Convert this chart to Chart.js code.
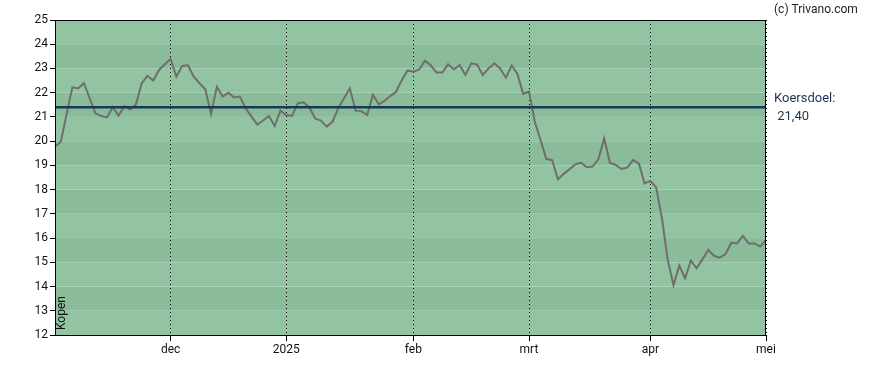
<!DOCTYPE html>
<html>
<head>
<meta charset="utf-8">
<script src="https://cdn.jsdelivr.net/npm/chart.js@4"></script>
<style>
  html, body { margin: 0; padding: 0; background: #fff; }
  #wrap { position: relative; width: 888px; height: 370px; }
</style>
</head>
<body>
<div id="wrap"><canvas id="koersChart" width="888" height="370"></canvas></div>
<script>
// --- DATA (koers per handelsdag, nov 2024 - mei 2025) ---
const koers = [
  19.77, 19.98, 21.10, 22.22, 22.18, 22.39, 21.77, 21.15, 21.04, 20.98,
  21.40, 21.05, 21.45, 21.31, 21.52, 22.39, 22.69, 22.50, 22.94, 23.17,
  23.40, 22.66, 23.10, 23.13, 22.66, 22.39, 22.14, 21.12, 22.25, 21.84,
  22.00, 21.80, 21.84, 21.35, 21.01, 20.68, 20.85, 21.04, 20.63, 21.26,
  21.08, 21.04, 21.56, 21.60, 21.40, 20.94, 20.85, 20.60, 20.80, 21.35,
  21.77, 22.18, 21.26, 21.24, 21.08, 21.92, 21.52, 21.66, 21.86, 22.04,
  22.52, 22.92, 22.87, 22.96, 23.32, 23.13, 22.83, 22.83, 23.17, 22.96,
  23.14, 22.73, 23.21, 23.17, 22.73, 23.00, 23.21, 23.00, 22.62, 23.12,
  22.77, 21.95, 22.05, 20.80, 20.05, 19.26, 19.22, 18.42, 18.65, 18.84,
  19.04, 19.11, 18.92, 18.95, 19.25, 20.12, 19.11, 19.02, 18.85, 18.91,
  19.22, 19.08, 18.26, 18.36, 18.09, 16.82, 15.10, 14.06, 14.86, 14.34,
  15.07, 14.75, 15.12, 15.51, 15.27, 15.19, 15.34, 15.81, 15.78, 16.09,
  15.78, 15.78, 15.65, 15.92
];
const koersdoel = 21.40;

// maandlabels en de handelsdag waarop ze vallen
const maandNamen = ['dec', '2025', 'feb', 'mrt', 'apr', 'mei'];
const maandIndex = [20, 40, 62, 82, 103, 123];

const yMin = 12;
const yMax = 25;

// --- categorieën opbouwen: lege labels behalve op maandgrenzen ---
const labels = koers.map(function(_, i) {
    const pos = maandIndex.indexOf(i);
    return pos >= 0 ? maandNamen[pos] : '';
});
const doelLijn = koers.map(function() { return koersdoel; });

const FONT = 'Roboto, "Liberation Sans", sans-serif';

// --- achtergrond met afwisselende banden + kader + teksten ---
const bandenPlugin = {
    id: 'banden',
    beforeDraw(chart) {
        const ctx = chart.ctx;
        const area = chart.chartArea;
        const y = chart.scales.y;
        ctx.save();
        for (let v = yMin; v < yMax; v++) {
            const top = y.getPixelForValue(v + 1);
            const bottom = y.getPixelForValue(v);
            ctx.fillStyle = ((yMax - 1 - v) % 2 === 0) ? '#93c4a1' : '#8abc9a';
            ctx.fillRect(area.left, top, area.right - area.left, bottom - top);
        }
        ctx.restore();
    },
    afterDraw(chart) {
        const ctx = chart.ctx;
        const area = chart.chartArea;
        const y = chart.scales.y;
        ctx.save();
        // kader rond het plotgebied
        ctx.strokeStyle = '#000';
        ctx.lineWidth = 1;
        ctx.strokeRect(Math.round(area.left) + 0.5, Math.round(area.top) + 0.5,
            Math.round(area.right - area.left) - 1, Math.round(area.bottom - area.top));

        // teksten
        ctx.textAlign = 'left';
        ctx.textBaseline = 'alphabetic';
        ctx.font = '12px ' + FONT;
        ctx.fillStyle = '#222';
        ctx.fillText('(c) Trivano.com', area.right + 8, 13);

        const yDoel = y.getPixelForValue(koersdoel);
        ctx.font = '13px ' + FONT;
        ctx.fillStyle = '#1c3550';
        ctx.fillText('Koersdoel:', area.right + 8, yDoel - 5);
        ctx.fillText(' ' + koersdoel.toFixed(2).replace('.', ','), area.right + 8, yDoel + 13);

        // advies, verticaal onderin
        ctx.font = '12px ' + FONT;
        ctx.fillStyle = '#111';
        ctx.translate(area.left + 10, area.bottom - 5);
        ctx.rotate(-Math.PI / 2);
        ctx.fillText('Kopen', 0, 0);
        ctx.restore();
    }
};

const config = {
    type: 'line',
    data: {
        labels: labels,
        datasets: [
            {
                label: 'Koersdoel',
                data: doelLijn,
                borderColor: '#163a55',
                borderWidth: 2.5,
                pointRadius: 0,
                tension: 0,
                order: 0
            },
            {
                label: 'Koers',
                data: koers,
                borderColor: '#6e6e6e',
                borderWidth: 2,
                pointRadius: 0,
                tension: 0,
                order: 1
            }
        ]
    },
    options: {
        responsive: false,
        animation: false,
        events: [],
        layout: { padding: { left: 0, right: 122, top: 20, bottom: 0 } },
        plugins: { legend: { display: false }, tooltip: { enabled: false } },
        scales: {
            x: {
                type: 'category',
                offset: false,
                afterBuildTicks: function(axis) {
                    axis.ticks = axis.ticks.filter(t => maandIndex.includes(t.value));
                },
                afterFit: function(axis) { axis.height = 35; },
                ticks: {
                    autoSkip: false,
                    maxRotation: 0,
                    padding: 2,
                    color: '#111',
                    font: { family: FONT, size: 12 },
                    callback: function(value) { return this.getLabelForValue(value); }
                },
                grid: {
                    color: '#000',
                    lineWidth: 1,
                    drawTicks: true,
                    tickLength: 6,
                    tickColor: '#000'
                },
                border: { display: false, dash: [1, 3] }
            },
            y: {
                min: yMin,
                max: yMax,
                afterFit: function(axis) { axis.width = 55; },
                ticks: {
                    stepSize: 1,
                    padding: 2,
                    color: '#111',
                    font: { family: FONT, size: 12 }
                },
                grid: {
                    drawOnChartArea: false,
                    drawTicks: true,
                    tickLength: 5,
                    tickColor: '#000'
                },
                border: { display: false }
            }
        }
    },
    plugins: [bandenPlugin]
};

new Chart(document.getElementById('koersChart'), config);
</script>
</body>
</html>
